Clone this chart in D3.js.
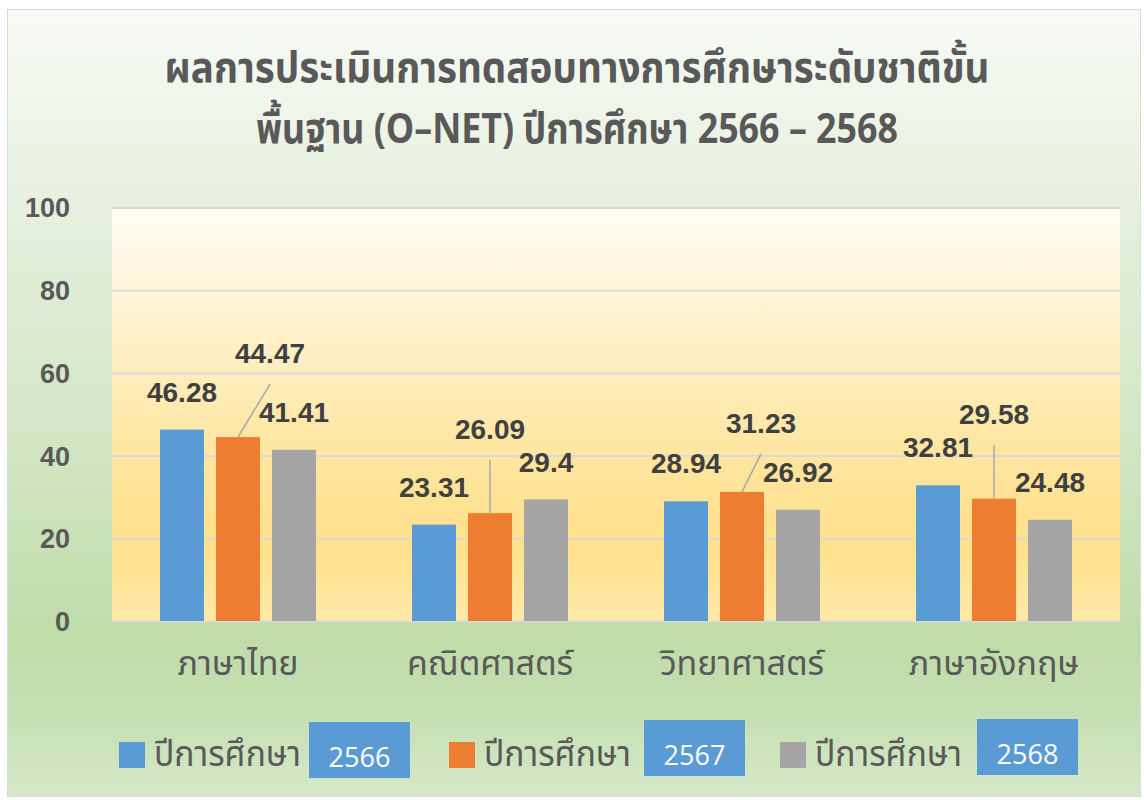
<!DOCTYPE html>
<html>
<head>
<meta charset="utf-8">
<script src="https://cdn.jsdelivr.net/npm/d3@7"></script>
<style>
  html, body { margin: 0; padding: 0; background: #ffffff; }
  svg { display: block; }
</style>
</head>
<body>
<svg id="chart" width="1144" height="800"></svg>
<script>
// ---- data ----
const titleLines = ["ผลการประเมินการทดสอบทางการศึกษาระดับชาติขั้น", "พื้นฐาน (O–NET) ปีการศึกษา 2566 – 2568"];
const categories = ["ภาษาไทย", "คณิตศาสตร์", "วิทยาศาสตร์", "ภาษาอังกฤษ"];
const legendLabel = "ปีการศึกษา";
const seriesYears = ["2566", "2567", "2568"];
const values2566 = [46.28, 23.31, 28.94, 32.81];
const values2567 = [44.47, 26.09, 31.23, 29.58];
const values2568 = [41.41, 29.4, 26.92, 24.48];
const yTicks = [0, 20, 40, 60, 80, 100];

// ---- layout / style (not data) ----
const colors = ["#5b9bd5", "#ed7d31", "#a5a5a5"];
// label displacement (dx, dy from bar top centre) for each series / category
const labelShift = [
  [[0, -38], [0, -38], [0, -38], [0, -38]],
  [[32, -84], [0, -84], [19, -69], [0, -85]],
  [[0, -38], [0, -38], [0, -38], [0, -38]]
];
const leaderSeries = 1;
const titleWidths = [825, 642];

const seriesValues = [values2566, values2567, values2568];
const svg = d3.select("#chart");
const plot = { left: 112, right: 1120, top: 207.5, bottom: 621 };
const thaiFont = "Noto Sans Thai, Noto Sans, sans-serif";
const numFont = "Liberation Sans, Arial, sans-serif";

const defs = svg.append("defs");
const gOuter = defs.append("linearGradient").attr("id", "outerGrad").attr("x1", 0).attr("y1", 0).attr("x2", 0).attr("y2", 1);
[[0, "#f8fbf5"], [0.25, "#e6f0de"], [0.55, "#d2e6c4"], [0.8, "#bfdca9"], [0.9, "#c6e0b3"], [1, "#d6e9ca"]].forEach(s =>
  gOuter.append("stop").attr("offset", s[0]).attr("stop-color", s[1]));
const gPlot = defs.append("linearGradient").attr("id", "plotGrad").attr("x1", 0).attr("y1", 0).attr("x2", 0).attr("y2", 1);
[[0, "#fffcf1"], [0.3, "#fff1cc"], [0.55, "#ffe7a6"], [0.8, "#ffe08a"], [1, "#ffe9a8"]].forEach(s =>
  gPlot.append("stop").attr("offset", s[0]).attr("stop-color", s[1]));

// outer chart area
svg.append("rect").attr("x", 7.5).attr("y", 9.5).attr("width", 1133).attr("height", 787)
  .attr("fill", "url(#outerGrad)").attr("stroke", "#d9d9d9").attr("stroke-width", 1);

// plot area
svg.append("rect").attr("x", plot.left).attr("y", plot.top).attr("width", plot.right - plot.left)
  .attr("height", plot.bottom - plot.top).attr("fill", "url(#plotGrad)");

// scales
const x0 = d3.scaleBand().domain(categories).range([plot.left, plot.right]).padding(0);
const x1 = d3.scaleBand().domain(d3.range(seriesValues.length)).range([48, 204]).paddingInner(12 / 56).paddingOuter(0);
const y = d3.scaleLinear().domain([0, 100]).range([plot.bottom, plot.top]);

// gridlines
const grid = svg.append("g").attr("transform", `translate(${plot.left},0)`)
  .call(d3.axisLeft(y).tickValues(yTicks).tickSize(-(plot.right - plot.left)).tickFormat(""));
grid.select(".domain").remove();
grid.selectAll("line").attr("stroke", "#d9d9d9").attr("stroke-width", 2);

// y axis labels
const yAxis = svg.append("g").attr("transform", `translate(${plot.left},0)`)
  .call(d3.axisLeft(y).tickValues(yTicks).tickSize(0).tickPadding(42));
yAxis.select(".domain").remove();
yAxis.selectAll("text").attr("fill", "#595959").attr("font-family", numFont)
  .attr("font-size", 27).attr("font-weight", "bold").attr("dy", "0.35em");

// x axis labels
const xAxis = svg.append("g").attr("transform", `translate(0,${plot.bottom})`)
  .call(d3.axisBottom(x0).tickSize(0).tickPadding(30));
xAxis.select(".domain").remove();
xAxis.selectAll("text").attr("fill", "#595959").attr("font-family", thaiFont)
  .attr("font-size", 34).attr("dy", "0.71em");

// bars
const groups = svg.append("g").selectAll("g").data(categories).join("g")
  .attr("transform", d => `translate(${x0(d)},0)`);
groups.selectAll("rect").data((c, ci) => seriesValues.map((vals, si) => ({ si, ci, v: vals[ci] })))
  .join("rect")
  .attr("x", d => x1(d.si)).attr("width", x1.bandwidth())
  .attr("y", d => y(d.v)).attr("height", d => y(0) - y(d.v))
  .attr("fill", d => colors[d.si]);

// labels + leader lines
const labelData = [];
seriesValues.forEach((vals, si) => vals.forEach((v, ci) => {
  const cx = x0(categories[ci]) + x1(si) + x1.bandwidth() / 2;
  const ty = y(v);
  const [dx, dy] = labelShift[si][ci];
  labelData.push({ si, ci, v, cx, ty, lx: cx + dx, ly: ty + dy });
}));
svg.append("g").selectAll("line").data(labelData.filter(d => d.si === leaderSeries)).join("line")
  .attr("x1", d => d.cx).attr("y1", d => d.ty).attr("x2", d => d.lx).attr("y2", d => d.ly + 31)
  .attr("stroke", "#a6a6a6").attr("stroke-width", 1.5);
svg.append("g").selectAll("text").data(labelData).join("text")
  .attr("x", d => d.lx).attr("y", d => d.ly).attr("dy", "0.36em")
  .attr("text-anchor", "middle").attr("font-family", numFont)
  .attr("font-size", 28).attr("font-weight", "bold").attr("fill", "#404040")
  .text(d => d.v);

// title
svg.append("g").selectAll("text").data(titleLines).join("text")
  .attr("x", 577).attr("y", (d, i) => 82 + i * 61)
  .attr("text-anchor", "middle").attr("fill", "#595959")
  .attr("font-family", thaiFont).attr("font-size", 42).attr("font-weight", "bold")
  .attr("textLength", (d, i) => titleWidths[i]).attr("lengthAdjust", "spacingAndGlyphs")
  .text(d => d);

// legend
const legendX = [119, 449, 780];
const boxX = [309, 644, 977];
const boxY = [722, 720, 719];
const leg = svg.append("g").selectAll("g").data(seriesYears).join("g");
leg.append("rect").attr("x", (d, i) => legendX[i]).attr("y", 742).attr("width", 26).attr("height", 26)
  .attr("fill", (d, i) => colors[i]);
leg.append("text").attr("x", (d, i) => legendX[i] + 35).attr("y", 766)
  .attr("font-family", thaiFont).attr("font-size", 36).attr("fill", "#595959")
  .attr("textLength", 147).attr("lengthAdjust", "spacingAndGlyphs")
  .text(legendLabel);
leg.append("rect").attr("x", (d, i) => boxX[i]).attr("y", (d, i) => boxY[i]).attr("width", 101).attr("height", 56)
  .attr("fill", "#5b9bd5");
leg.append("text").attr("x", (d, i) => boxX[i] + 50.5).attr("y", (d, i) => boxY[i] + 45)
  .attr("text-anchor", "middle").attr("font-family", "Open Sans, Noto Sans, sans-serif").attr("font-size", 27)
  .attr("fill", "#ffffff").text(d => d);
</script>
</body>
</html>
